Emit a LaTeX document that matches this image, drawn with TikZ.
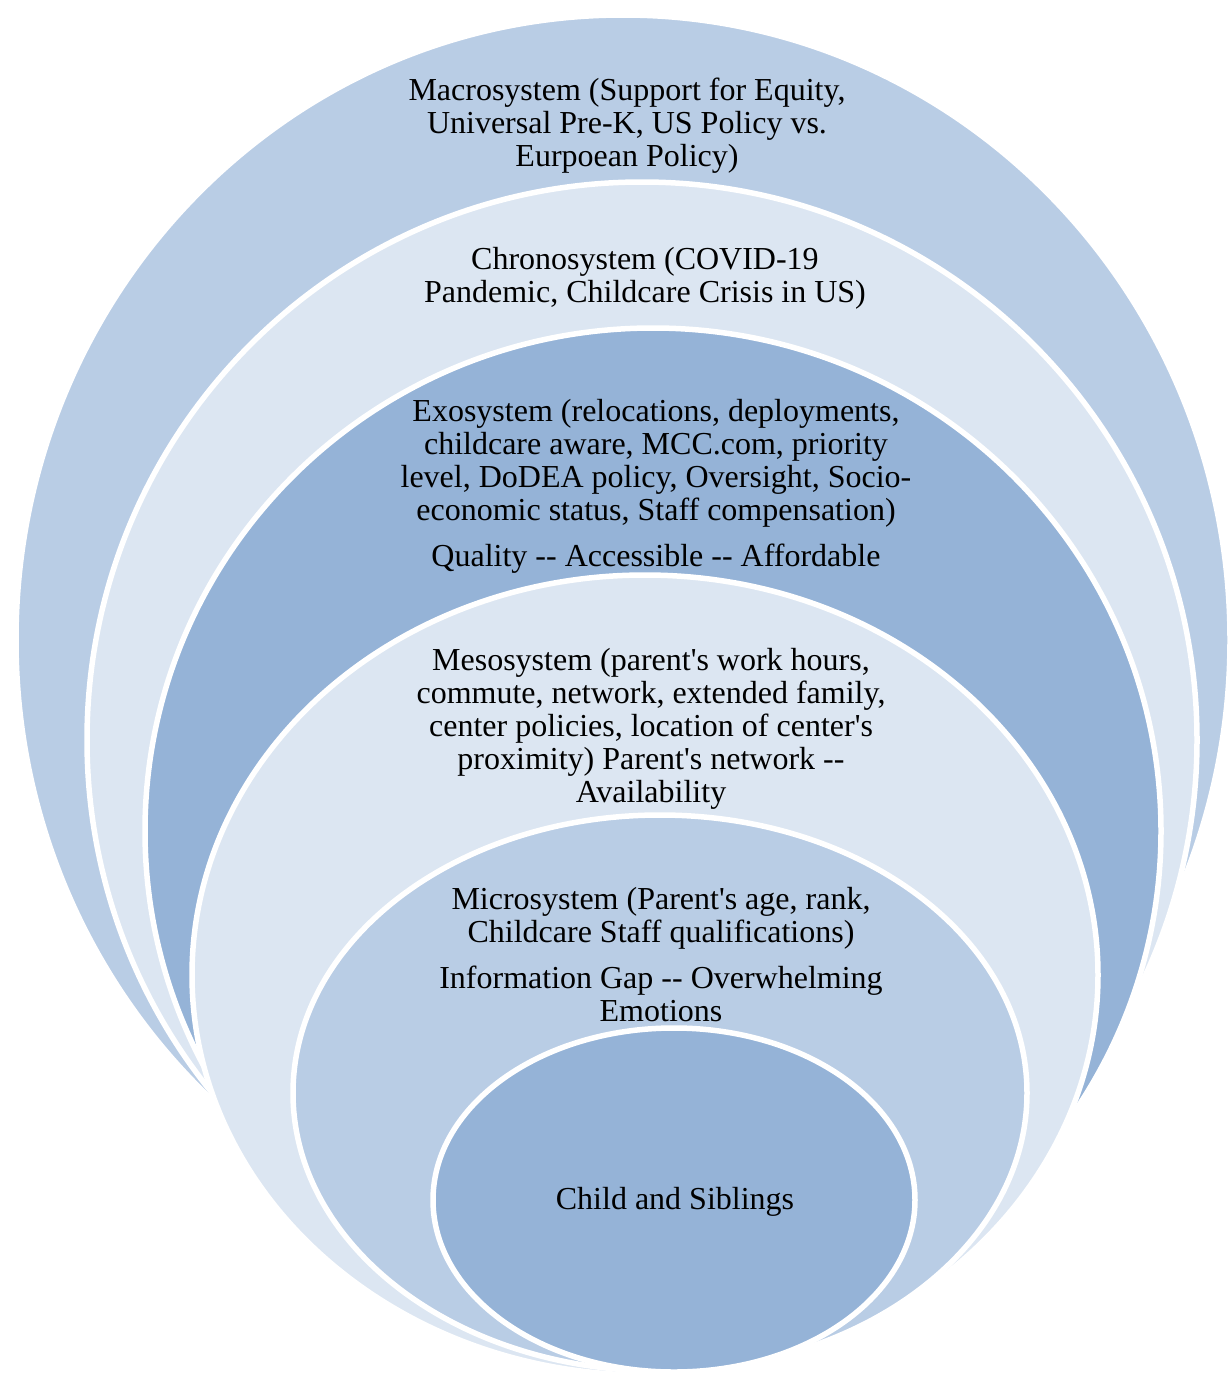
\documentclass[tikz,border=0pt]{standalone}
\usepackage{fontspec}
\newfontfamily\labelfont{Liberation Serif}
\usetikzlibrary{shapes.geometric,shadows}
\definecolor{ringdark}{HTML}{95B3D7}
\definecolor{ringmid}{HTML}{B9CDE5}
\definecolor{ringlight}{HTML}{DCE6F2}
\begin{document}
\begin{tikzpicture}[x=1pt,y=-1pt,
  ring/.style={ellipse, draw=white, line width=5.5pt, inner sep=0pt, outer sep=0pt,
    drop shadow={opacity=0.22, shadow xshift=0pt, shadow yshift=-1.5pt}},
  ringlabel/.style={align=center, font=\labelfont\fontsize{32}{33}\selectfont, inner sep=0pt, text=black}]
\useasboundingbox (0,0) rectangle (1231,1376);
% nested system rings, outermost first
\node[ring, fill=ringmid,   minimum width=1214pt, minimum height=1250pt] (macro)  at (623,640)  {};
\node[ring, fill=ringlight, minimum width=1110pt, minimum height=1116pt] (chrono) at (642,740)  {};
\node[ring, fill=ringdark,  minimum width=1016pt, minimum height=1006pt] (exo)    at (653,831)  {};
\node[ring, fill=ringlight, minimum width=906pt,  minimum height=800pt]  (meso)   at (645,975)  {};
\node[ring, fill=ringmid,   minimum width=734pt,  minimum height=556pt]  (micro)  at (660,1093) {};
\node[ring, fill=ringdark,  minimum width=482pt,  minimum height=344pt]  (child)  at (674,1200) {};
% ring labels
\node[ringlabel] (macrotext) at (627,126) {Macrosystem (Support for Equity,\\ Universal Pre-K, US Policy vs.\\ Eurpoean Policy)};
\node[ringlabel] (chronotext) at (645,278) {Chronosystem (COVID-19\\ Pandemic, Childcare Crisis in US)};
\node[ringlabel] (exotext) at (656,486) {Exosystem (relocations, deployments,\\ childcare aware, MCC.com, priority\\ level, DoDEA policy, Oversight, Socio-\\ economic status, Staff compensation)\\[13pt] Quality -- Accessible -- Affordable};
\node[ringlabel] (mesotext) at (651,729) {Mesosystem (parent's work hours,\\ commute, network, extended family,\\ center policies, location of center's\\ proximity) Parent's network --\\ Availability};
\node[ringlabel] (microtext) at (661,955) {Microsystem (Parent's age, rank,\\ Childcare Staff qualifications)\\[13pt] Information Gap -- Overwhelming\\ Emotions};
\node[ringlabel] (childtext) at (675,1202) {Child and Siblings};
\end{tikzpicture}
\end{document}
